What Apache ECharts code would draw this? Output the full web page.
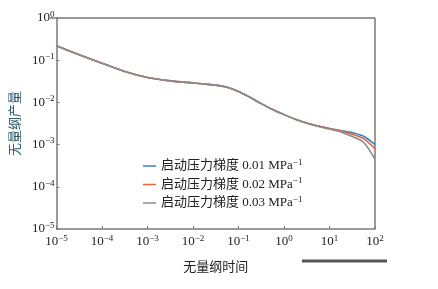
<!DOCTYPE html>
<html><head><meta charset="utf-8">
<script src="https://cdn.jsdelivr.net/npm/echarts@6/dist/echarts.min.js"></script>
<style>html,body{margin:0;padding:0;background:#fff}#c{width:438px;height:289px}</style>
</head><body><div id="c"></div>
<script>
// dimensionless time (x) and dimensionless production (y)
const timeVals = [1e-5, 3.16e-5, 1e-4, 3.16e-4, 1e-3, 3.16e-3, 1e-2, 0.0178, 0.0316, 0.0562, 0.1, 0.178, 0.316, 0.562, 1, 1.78, 3.16, 5.62, 10, 17.8, 31.6, 56.2, 100];
const prod001 = [0.219, 0.135, 0.0851, 0.0537, 0.0389, 0.0324, 0.0288, 0.0272, 0.0257, 0.0229, 0.0182, 0.0132, 0.00933, 0.00676, 0.00513, 0.00398, 0.00324, 0.00275, 0.00240, 0.00216, 0.00192, 0.00158, 0.00100];
const prod002 = [0.219, 0.135, 0.0851, 0.0537, 0.0389, 0.0324, 0.0288, 0.0272, 0.0257, 0.0229, 0.0182, 0.0132, 0.00933, 0.00676, 0.00513, 0.00398, 0.00324, 0.00274, 0.00238, 0.00209, 0.00176, 0.00138, 0.00079];
const prod003 = [0.219, 0.135, 0.0851, 0.0537, 0.0389, 0.0324, 0.0288, 0.0272, 0.0257, 0.0229, 0.0182, 0.0132, 0.00933, 0.00676, 0.00513, 0.00398, 0.00322, 0.00271, 0.00234, 0.00200, 0.00155, 0.00112, 0.00045];
const seriesNames = ['0.01', '0.02', '0.03'];
const seriesColors = ['#3b7fc6', '#e2673a', '#8e8b8b'];

const fontSerif = '"Liberation Serif", "Noto Sans CJK SC", serif';
const supFmt = v => {
  const e = Math.round(Math.log10(v));
  return '{b|10}{s|' + (e < 0 ? '\u2212' + (-e) : e) + '}';
};
const rich = {
  b: {fontSize: 13, fontFamily: fontSerif, color: '#222'},
  s: {fontSize: 9, fontFamily: fontSerif, color: '#222', padding: [0, 0, 7, 0]}
};
const datasets = [prod001, prod002, prod003];
const chart = echarts.init(document.getElementById('c'), null, {renderer: 'canvas'});
chart.setOption({
  animation: false,
  grid: {left: 50, right: 63, top: 18, bottom: 60, show: false},
  xAxis: {
    type: 'log', logBase: 10, min: 1e-5, max: 100,
    name: '无量纲时间', nameLocation: 'middle', nameGap: 31,
    nameTextStyle: {fontSize: 13, fontFamily: '"Noto Sans CJK SC", serif', color: '#222'},
    axisLine: {show: true, lineStyle: {color: '#7a7a7a', width: 1.5}},
    axisTick: {show: true, inside: true, length: 3, lineStyle: {color: '#7a7a7a'}},
    minorTick: {show: false},
    splitLine: {show: false},
    axisLabel: {formatter: supFmt, rich: rich, margin: 5}
  },
  yAxis: {
    type: 'log', logBase: 10, min: 1e-5, max: 1,
    name: '无量纲产量', nameLocation: 'middle', nameGap: 32, nameRotate: 90,
    nameTextStyle: {fontSize: 13, fontFamily: '"Noto Sans CJK SC", serif', color: '#2d5b6c'},
    axisLine: {show: true, lineStyle: {color: '#7a7a7a', width: 1.5}},
    axisTick: {show: true, inside: true, length: 3, lineStyle: {color: '#7a7a7a'}},
    splitLine: {show: false},
    axisLabel: {formatter: supFmt, rich: rich, margin: 2}
  },
  legend: {
    orient: 'vertical', left: 138, top: 153, itemWidth: 13, itemHeight: 1.5, itemGap: 4,
    icon: 'rect',
    data: seriesNames,
    formatter: n => '{t|启动压力梯度 ' + n + ' MPa}{s|\u22121}',
    textStyle: {
      rich: {
        t: {fontSize: 13, fontFamily: fontSerif, color: '#222'},
        s: {fontSize: 9, fontFamily: fontSerif, color: '#222', padding: [0, 0, 7, 0]}
      }
    }
  },
  series: datasets.map((d, i) => ({
    name: seriesNames[i], type: 'line', smooth: 0.3, symbol: 'none',
    lineStyle: {color: seriesColors[i], width: 1.6}, itemStyle: {color: seriesColors[i]},
    data: timeVals.map((t, j) => [t, d[j]])
  })),
  graphic: [
    {type: 'line', shape: {x1: 50, y1: 18, x2: 375, y2: 18}, style: {stroke: '#333', lineWidth: 1}},
    {type: 'line', shape: {x1: 375, y1: 18, x2: 375, y2: 229}, style: {stroke: '#7a7a7a', lineWidth: 1.5}},
    {type: 'line', shape: {x1: 302, y1: 261, x2: 387, y2: 261}, style: {stroke: '#555', lineWidth: 3}}
  ]
});
</script></body></html>
